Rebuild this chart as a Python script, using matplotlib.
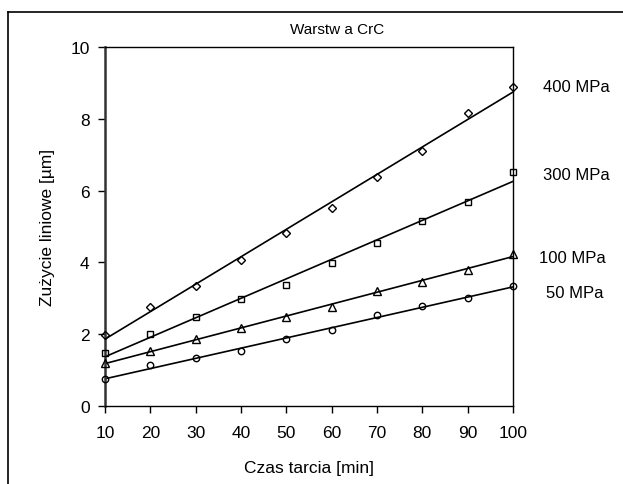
import matplotlib.pyplot as plt
import numpy as np
from matplotlib.lines import Line2D

plt.rcParams['font.family'] = ['Liberation Sans', 'DejaVu Sans']

czas = [10, 20, 30, 40, 50, 60, 70, 80, 90, 100]
mpa400 = [1.98, 2.77, 3.35, 4.08, 4.82, 5.51, 6.39, 7.11, 8.15, 8.88]
mpa300 = [1.47, 2.0, 2.49, 2.98, 3.37, 3.97, 4.54, 5.14, 5.67, 6.51]
mpa100 = [1.19, 1.53, 1.87, 2.17, 2.49, 2.77, 3.2, 3.46, 3.8, 4.24]
mpa50 = [0.74, 1.14, 1.33, 1.52, 1.87, 2.12, 2.54, 2.79, 3.0, 3.33]

series = [
    (mpa400, 'D', '400 MPa', 4.4),
    (mpa300, 's', '300 MPa', 4.4),
    (mpa100, '^', '100 MPa', 5.8),
    (mpa50, 'o', '50 MPa', 4.6),
]
label_y = [8.9, 6.45, 4.15, 3.15]
label_x = [106.7, 106.7, 105.8, 107.2]

fig = plt.figure(figsize=(6.23, 4.85), dpi=100)
ax = fig.add_axes([105 / 623, 78 / 485, 408 / 623, 359 / 485])

x = np.array(czas)
for (vals, mk, name, ms), ly, lx in zip(series, label_y, label_x):
    ax.plot(czas, vals, linestyle='none', marker=mk, ms=ms, mfc='none',
            mec='black', mew=1.0, clip_on=False, zorder=3)
    a, b = np.polyfit(x, vals, 1)
    ax.plot([10, 100], [a * 10 + b, a * 100 + b], color='black', lw=1.2)
    ax.text(lx, ly, name, fontsize=12, va='center', ha='left', clip_on=False)

ax.set_xlim(10, 100)
ax.set_ylim(0, 10)
ax.set_xticks(czas)
ax.set_yticks([0, 2, 4, 6, 8, 10])
ax.tick_params(axis='both', labelsize=12.5, direction='out', length=5, width=1, pad=6)
ax.tick_params(axis='x', pad=9)
for s in ax.spines.values():
    s.set_linewidth(1.0)
ax.spines['left'].set_linewidth(1.8)
ax.spines['left'].set_color('#333333')

fig.text(337 / 623, 1 - 30 / 485, 'Warstw a CrC', fontsize=11, ha='center', va='center')
ax.set_xlabel('Czas tarcia [min]', fontsize=12.5, labelpad=14)
ax.set_ylabel('Zużycie liniowe [µm]', fontsize=12.5, labelpad=11)

# outer frame (top and left edges visible)
fig.add_artist(Line2D([8 / 623, 8 / 623], [0, 1 - 13 / 485], transform=fig.transFigure, color='black', lw=1.2))
fig.add_artist(Line2D([8 / 623, 1], [1 - 13 / 485, 1 - 13 / 485], transform=fig.transFigure, color='black', lw=1.2))

fig.savefig('out.png', dpi=100)
